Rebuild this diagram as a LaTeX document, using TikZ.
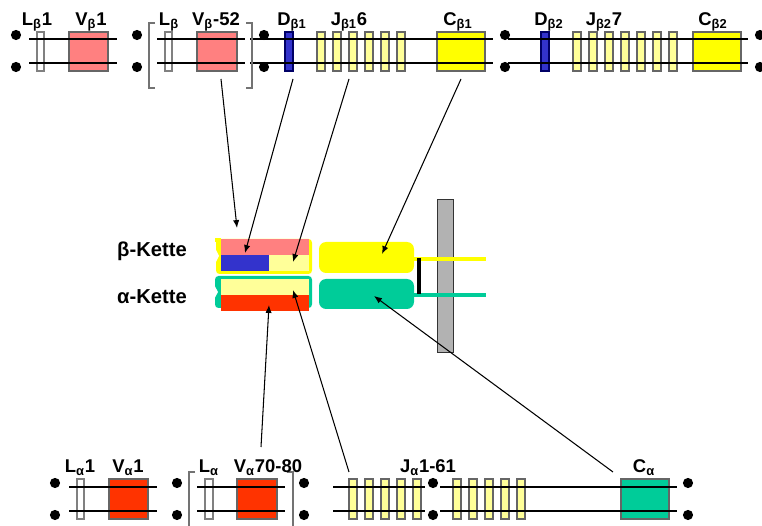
\documentclass[tikz,border=0pt]{standalone}
\usepackage{fontspec}
\setmainfont{Liberation Sans}
\usetikzlibrary{arrows.meta}

\definecolor{vpink}{RGB}{255,128,128}
\definecolor{dblue}{RGB}{51,51,204}
\definecolor{jyel}{RGB}{255,255,153}
\definecolor{cyel}{RGB}{255,255,0}
\definecolor{vred}{RGB}{255,51,0}
\definecolor{cgreen}{RGB}{0,204,153}
\definecolor{mgray}{RGB}{178,178,178}

\tikzset{
  seg/.style={draw=black!60, line width=0.7pt},
  lseg/.style={draw=black!50, fill=white, line width=1pt},
  strand/.style={line width=0.6pt},
  bracket/.style={draw=black!55, line width=0.7pt},
  genlab/.style={font=\bfseries\fontsize{10.5}{12}\selectfont, anchor=base, inner sep=0pt},
  chainlab/.style={font=\bfseries\fontsize{11.5}{13}\selectfont, anchor=base, inner sep=0pt},
  ptr/.style={-{Latex[length=4.5pt,width=3.6pt]}, line width=0.6pt},
}

\begin{document}
\begin{tikzpicture}[x=0.02cm, y=-0.02cm]
\useasboundingbox (0,0) rectangle (762,526);

% beta locus: segments
\draw[lseg] (37,32) rectangle (44,71);
\draw[lseg] (165,32) rectangle (172,71);
\filldraw[seg, fill=vpink] (69,32) rectangle (108,71);
\filldraw[seg, fill=vpink] (197,32) rectangle (237,71);
\filldraw[seg, draw=blue!40!black, fill=dblue] (285,32) rectangle (293,71);
\filldraw[seg, draw=blue!40!black, fill=dblue] (541,32) rectangle (549,71);
\foreach \x in {317,333,...,397}
  \filldraw[seg, fill=jyel] (\x,32) rectangle ++(8,39);
\foreach \x in {573,589,...,669}
  \filldraw[seg, fill=jyel] (\x,32) rectangle ++(8,39);
\filldraw[seg, fill=cyel] (437,32) rectangle (485,71);
\filldraw[seg, fill=cyel] (693,32) rectangle (741,71);

% beta locus: strands and dots
\foreach \a/\b in {29/117, 157/245, 250/493, 508/748}
  \draw[strand] (\a,39) -- (\b,39) (\a,63) -- (\b,63);
\foreach \x in {16,137,264,505,760}
  \fill (\x,35) circle (2.9pt) (\x,67) circle (2.9pt);
\draw[bracket] (155,23) -- (149,23) -- (149,88) -- (155,88);
\draw[bracket] (246,23) -- (252,23) -- (252,88) -- (246,88);

% beta labels
\node[genlab] (lb1) at (37,26) {L\textsubscript{β}1};
\node[genlab] (vb1) at (91,26) {V\textsubscript{β}1};
\node[genlab] (lb) at (169,26) {L\textsubscript{β}};
\node[genlab] (vb52) at (216,26) {V\textsubscript{β}-52};
\node[genlab] (db1) at (292,26) {D\textsubscript{β1}};
\node[genlab] (jb16) at (349,26) {J\textsubscript{β1}6};
\node[genlab] (cb1) at (458,26) {C\textsubscript{β1}};
\node[genlab] (db2) at (549,26) {D\textsubscript{β2}};
\node[genlab] (jb27) at (604,26) {J\textsubscript{β2}7};
\node[genlab] (cb2) at (713,26) {C\textsubscript{β2}};

% alpha locus: segments
\draw[lseg] (77,479) rectangle (84,519);
\draw[lseg] (205,479) rectangle (213,519);
\filldraw[seg, fill=vred] (109,479) rectangle (148,519);
\filldraw[seg, fill=vred] (237,479) rectangle (277,519);
\foreach \x in {349,365,...,413}
  \filldraw[seg, fill=jyel] (\x,479) rectangle ++(8,40);
\foreach \x in {453,469,...,517}
  \filldraw[seg, fill=jyel] (\x,479) rectangle ++(8,40);
\filldraw[seg, fill=cgreen] (621,479) rectangle (669,519);

% alpha locus: strands and dots
\foreach \a/\b in {69/157, 197/285, 333/425, 440/677}
  \draw[strand] (\a,487) -- (\b,487) (\a,511) -- (\b,511);
\foreach \x in {55,177,304,433,688}
  \fill (\x,483) circle (2.9pt) (\x,515) circle (2.9pt);
\draw[bracket] (195,472) -- (189,472) -- (189,526);
\draw[bracket] (287,472) -- (293,472) -- (293,526);

% alpha labels
\node[genlab] (la1) at (80,473) {L\textsubscript{α}1};
\node[genlab] (va1) at (128,473) {V\textsubscript{α}1};
\node[genlab] (la) at (209,473) {L\textsubscript{α}};
\node[genlab] (va70) at (268,473) {V\textsubscript{α}70-80};
\node[genlab] (ja) at (428,473) {J\textsubscript{α}1-61};
\node[genlab] (ca) at (644,473) {C\textsubscript{α}};

% beta chain
\fill[cyel, rounded corners=2] (216,239) rectangle (312,274);
\fill[cyel] (215,238) rectangle (221,242);
\fill[white] (213,244) -- (219,256) -- (213,268) -- cycle;
\fill[vpink] (221,239) rectangle (309,255);
\fill[dblue] (221,255) rectangle (269,271);
\fill[jyel] (269,255) rectangle (309,271);
\fill[cyel, rounded corners=4] (319,242) rectangle (414,273);

% alpha chain
\fill[cgreen, rounded corners=2] (215,276) rectangle (312,308);
\fill[white] (212,281) -- (218,292) -- (212,303) -- cycle;
\fill[jyel] (221,279) rectangle (309,295);
\fill[vred] (221,295) rectangle (309,311);
\fill[cgreen, rounded corners=4] (319,279) rectangle (414,309);

% membrane and anchors
\filldraw[fill=mgray, draw=black!80, line width=0.5pt] (437,199) rectangle (453,352);
\draw[cyel, line width=2.3pt] (414,259) -- (486,259);
\draw[cgreen, line width=2.3pt] (414,295) -- (486,295);
\draw[line width=2pt] (419,258) -- (419,294);

\node[chainlab] (bk) at (152,257) {β-Kette};
\node[chainlab] (ak) at (152,304) {α-Kette};

% arrow ends
\coordinate (sVb) at (221,79);
\coordinate (sDb) at (293,79);
\coordinate (sJb) at (349,79);
\coordinate (sCb) at (461,79);
\coordinate (sVa) at (261,447);
\coordinate (sJa) at (349,472);
\coordinate (sCa) at (613,472);
\coordinate (tVb) at (237,228);
\coordinate (tDb) at (245,253);
\coordinate (tJb) at (293,262);
\coordinate (tCb) at (382,254);
\coordinate (tVa) at (269,305);
\coordinate (tJa) at (293,290);
\coordinate (tCa) at (374,296);

% arrows
\draw[ptr] (sVb) -- (tVb);
\draw[ptr] (sDb) -- (tDb);
\draw[ptr] (sJb) -- (tJb);
\draw[ptr] (sCb) -- (tCb);
\draw[ptr] (sVa) -- (tVa);
\draw[ptr] (sJa) -- (tJa);
\draw[ptr] (sCa) -- (tCa);

\end{tikzpicture}
\end{document}
